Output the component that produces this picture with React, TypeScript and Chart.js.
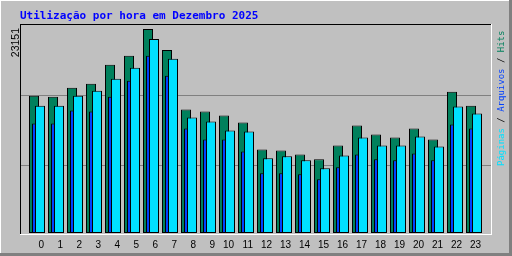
import React, { useEffect, useRef } from 'react';
import { Chart, registerables } from 'chart.js';

Chart.register(...registerables);

// ---- data ----
const hours = [0, 1, 2, 3, 4, 5, 6, 7, 8, 9, 10, 11, 12, 13, 14, 15, 16, 17, 18, 19, 20, 21, 22, 23];
const hits = [15584, 15471, 16488, 16940, 19085, 20102, 23151, 20779, 14003, 13777, 13326, 12535, 9486, 9373, 8921, 8357, 9938, 12196, 11180, 10841, 11858, 10615, 16036, 14455];
const files = [12422, 12422, 13890, 13777, 15471, 17278, 20102, 17843, 11858, 10615, 10615, 9260, 6776, 6776, 6663, 6098, 7453, 8921, 8357, 8244, 9034, 8244, 12309, 11858];
const pages = [14455, 14455, 15584, 16149, 17504, 18746, 22021, 19763, 13100, 12648, 11632, 11519, 8470, 8696, 8244, 7340, 8809, 10841, 9938, 9938, 10954, 9825, 14342, 13552];

const titleText = 'Utilização por hora em Dezembro 2025';
const seriesNames = ['Páginas', 'Arquivos', 'Hits'];

// ---- style ----
const BG = '#c0c0c0';
const GREEN = '#00805c';
const BLUE = '#0040ff';
const CYAN = '#00e0ff';
const GRID = '#808080';
const DARK = '#808080';

const W = 512;
const H = 256;
const PLOT = { left: 21, right: 491, top: 25, bottom: 235 };
const SLOT = 19; // px per hour
const CENTER0 = 37; // centre of the middle bar of hour 0
const SHIFT = 3; // offset between overlapping bars
const LABEL_END = 7; // right end of hour label relative to the middle bar
const BAR_MAX_PX = 204; // height of the tallest bar
const BASE_GAP = 2; // gap between bar base and bottom of plot

const maxHits = Math.max(...hits);
const unit = maxHits / BAR_MAX_PX;
const yMin = -BASE_GAP * unit;
const yMax = (PLOT.bottom - PLOT.top - BASE_GAP) * unit;

function hourAxis(offsetPx: number) {
  return {
    type: 'linear',
    display: false,
    offset: false,
    grid: { offset: false },
    min: (PLOT.left - (CENTER0 + offsetPx)) / SLOT,
    max: (PLOT.right - (CENTER0 + offsetPx)) / SLOT,
  };
}

const framePlugin = {
  id: 'webalizerFrame',
  beforeDraw(chart: any) {
    const ctx = chart.ctx;
    ctx.save();
    ctx.fillStyle = BG;
    ctx.fillRect(0, 0, W, H);
    // outer 3D border
    ctx.fillStyle = '#ffffff';
    ctx.fillRect(0, 0, W, 1);
    ctx.fillRect(0, 0, 1, H);
    ctx.fillStyle = DARK;
    ctx.fillRect(W - 3, 0, 3, H);
    ctx.fillRect(0, H - 3, W, 3);
    ctx.restore();
  },
  afterDraw(chart: any) {
    const ctx = chart.ctx;
    const a = chart.chartArea;
    ctx.save();
    // inner frame
    ctx.fillStyle = '#000000';
    ctx.fillRect(a.left - 1, a.top - 1, a.right - a.left + 1, 1);
    ctx.fillRect(a.left - 1, a.top - 1, 1, a.bottom - a.top);
    ctx.fillStyle = '#ffffff';
    ctx.fillRect(a.left - 1, a.bottom - 1, a.right - a.left + 2, 1);
    ctx.fillRect(a.right, a.top - 1, 1, a.bottom - a.top + 1);

    // title
    ctx.font = 'bold 11px "DejaVu Sans Mono"';
    ctx.fillStyle = '#0000ff';
    ctx.textBaseline = 'alphabetic';
    ctx.textAlign = 'left';
    ctx.fillText(titleText, 20, 19);

    // max value label (rotated)
    ctx.save();
    ctx.translate(19, 28);
    ctx.rotate(-Math.PI / 2);
    ctx.font = '10.5px "Liberation Sans"';
    ctx.fillStyle = '#000000';
    ctx.textAlign = 'right';
    ctx.textBaseline = 'alphabetic';
    ctx.fillText(String(maxHits), 0, 0);
    ctx.restore();

    // legend (rotated)
    ctx.save();
    ctx.translate(504, 166);
    ctx.rotate(-Math.PI / 2);
    ctx.font = '9px "DejaVu Sans Mono"';
    ctx.textAlign = 'left';
    ctx.textBaseline = 'alphabetic';
    const parts = [
      { t: seriesNames[0], c: CYAN },
      { t: ' / ', c: '#000000' },
      { t: seriesNames[1], c: BLUE },
      { t: ' / ', c: '#000000' },
      { t: seriesNames[2], c: GREEN },
    ];
    let x = 0;
    for (const p of parts) {
      ctx.fillStyle = p.c;
      ctx.fillText(p.t, x, 0);
      x += ctx.measureText(p.t).width;
    }
    ctx.restore();
    ctx.restore();
  },
};

const barStyle = {
  borderColor: '#000000',
  borderWidth: 1,
  borderSkipped: false,
  barThickness: 10,
  inflateAmount: 0,
  grouped: false,
};

export default function App() {
  const ref = useRef<HTMLCanvasElement | null>(null);

  useEffect(() => {
    if (!ref.current) return;
    const chart = new Chart(ref.current, {
      type: 'bar',
      data: {
        labels: hours,
        datasets: [
          { label: seriesNames[0], data: pages, xAxisID: 'xc', backgroundColor: CYAN, ...barStyle },
          { label: seriesNames[1], data: files, xAxisID: 'xb', backgroundColor: BLUE, ...barStyle },
          { label: seriesNames[2], data: hits, xAxisID: 'xg', backgroundColor: GREEN, ...barStyle },
        ],
      } as any,
      options: {
        responsive: false,
        maintainAspectRatio: false,
        devicePixelRatio: 1,
        animation: false,
        layout: { padding: { top: PLOT.top, right: W - PLOT.right, left: 0, bottom: 0 } },
        plugins: {
          legend: { display: false },
          tooltip: { enabled: false },
          title: { display: false },
        },
        scales: {
          xg: hourAxis(-SHIFT),
          xb: hourAxis(0),
          xc: hourAxis(SHIFT),
          xt: {
            type: 'linear',
            position: 'bottom',
            offset: false,
            min: (PLOT.left - (CENTER0 + LABEL_END)) / SLOT,
            max: (PLOT.right - (CENTER0 + LABEL_END)) / SLOT,
            grid: { display: false, drawTicks: false, offset: false },
            border: { display: false },
            ticks: {
              align: 'end',
              color: '#000000',
              font: { family: 'Liberation Sans', size: 10 },
              padding: 4,
              autoSkip: false,
              maxRotation: 0,
              minRotation: 0,
              callback: (v: any) => String(v),
            },
            afterBuildTicks: (s: any) => {
              s.ticks = hours.map((h) => ({ value: h }));
            },
            afterFit: (s: any) => {
              s.height = H - PLOT.bottom;
            },
          },
          y: {
            type: 'linear',
            position: 'left',
            min: yMin,
            max: yMax,
            ticks: { display: false },
            grid: { color: GRID, lineWidth: 1, drawTicks: false },
            border: { display: false },
            afterBuildTicks: (s: any) => {
              s.ticks = [1, 2].map((k) => ({ value: yMin + (yMax - yMin) * (k / 3 - 0.001) }));
            },
            afterFit: (s: any) => {
              s.width = PLOT.left;
            },
          },
        },
      } as any,
      plugins: [framePlugin],
    });
    return () => chart.destroy();
  }, []);

  return (
    <div style={{ position: 'fixed', left: 0, top: 0, width: W, height: H }}>
      <canvas ref={ref} width={W} height={H} style={{ display: 'block', width: W, height: H }} />
    </div>
  );
}
